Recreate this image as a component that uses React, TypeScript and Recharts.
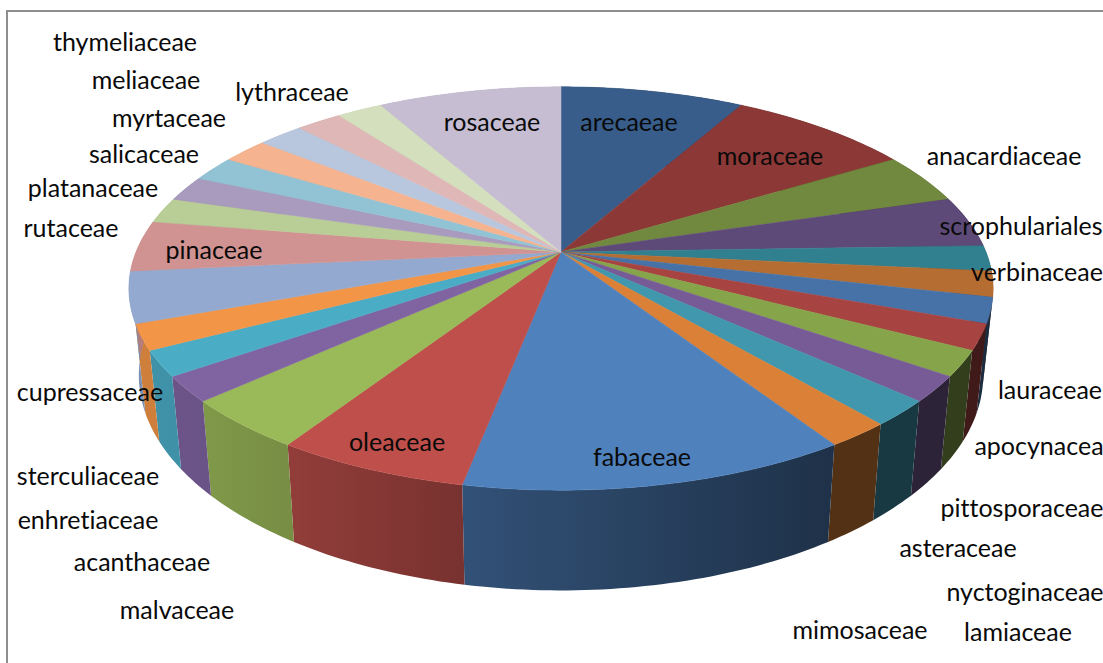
import { PieChart, Pie } from "recharts";

const families = [
  "arecaeae", "moraceae", "anacardiaceae", "scrophulariales", "verbinaceae", "lauraceae", "apocynacea",
  "pittosporaceae", "asteraceae", "nyctoginaceae", "lamiaceae", "mimosaceae", "fabaceae", "oleaceae",
  "malvaceae", "acanthaceae", "enhretiaceae", "sterculiaceae", "cupressaceae", "pinaceae", "rutaceae",
  "platanaceae", "salicaceae", "myrtaceae", "meliaceae", "thymeliaceae", "lythraceae", "rosaceae",
];
const counts = [4, 4, 2, 2, 1, 1, 1, 1, 1, 1, 1, 1, 6, 3, 2, 1, 1, 1, 2, 2, 1, 1, 1, 1, 1, 1, 1, 4];
const colors = [
  "#385D8A", "#8C3836", "#71893F", "#5E4A78", "#31808F", "#B66D31", "#4672A8",
  "#A74442", "#86A44A", "#775B96", "#4197AE", "#DA8137", "#4F81BD", "#BE4F4B",
  "#9AB958", "#8064A2", "#4BACC6", "#F39547", "#93A9CF", "#D19392", "#B9CD96",
  "#A99BBD", "#91C3D5", "#F5B38F", "#B9C7DE", "#DEB7B6", "#D3DFBD", "#C6BDD3",
];

// label centres, the original has them hand placed
const labelSpots: Record<string, [number, number]> = {
  arecaeae: [629, 122], moraceae: [770, 156], anacardiaceae: [1004, 156], scrophulariales: [1021, 226],
  verbinaceae: [1037, 272], lauraceae: [1050, 390], apocynacea: [1039, 446], pittosporaceae: [1022, 508],
  asteraceae: [958, 548], nyctoginaceae: [1025, 592], lamiaceae: [1018, 632], mimosaceae: [860, 630],
  fabaceae: [642, 457], oleaceae: [397, 442], malvaceae: [177, 610], acanthaceae: [142, 562],
  enhretiaceae: [88, 520], sterculiaceae: [88, 476], cupressaceae: [90, 392], pinaceae: [214, 250],
  rutaceae: [71, 228], platanaceae: [93, 188], salicaceae: [144, 154], myrtaceae: [169, 118],
  meliaceae: [146, 80], thymeliaceae: [125, 42], lythraceae: [292, 92], rosaceae: [492, 122],
};

const rows = families.map((family, i) => ({ family, count: counts[i], fill: colors[i] }));

// perspective of the disc, worked out from the rim of the picture
const TILT = 0.181;
const SQUASH = 0.459;
const DEPTH = 84.5;
const BOTTOM_X = 0.977;
const BOTTOM_Y = 1.066;

const project = (cx: number, cy: number, r: number, deg: number, bottom = false) => {
  const a = ((90 - deg) * Math.PI) / 180;
  const u = Math.sin(a);
  const v = -Math.cos(a);
  const w = 1 - TILT * v;
  const dx = (r * u) / w;
  const dy = (r * SQUASH * v) / w;
  return bottom
    ? [cx + BOTTOM_X * dx, cy + DEPTH + BOTTOM_Y * dy]
    : [cx + dx, cy + dy];
};

const arc = (cx: number, cy: number, r: number, from: number, to: number, bottom = false) => {
  const steps = Math.max(2, Math.ceil(Math.abs(to - from)));
  const pts: number[][] = [];
  for (let i = 0; i <= steps; i++) {
    pts.push(project(cx, cy, r, from + ((to - from) * i) / steps, bottom));
  }
  return pts;
};

const toPath = (pts: number[][]) =>
  "M" + pts.map((p) => `${p[0].toFixed(2)},${p[1].toFixed(2)}`).join("L") + "Z";

const dim = (hex: string, f: number) => {
  const n = parseInt(hex.slice(1), 16);
  const c = [n >> 16, (n >> 8) & 255, n & 255].map((x) => Math.round(x * f));
  return `rgb(${c[0]},${c[1]},${c[2]})`;
};

// side light, dark on the right and bright on the left
const lightAngles = [147, 191, 213, 228, 240];
const lightLevels = [0.38, 0.63, 0.77, 0.83, 0.85];
const sideLight = (deg: number) => {
  const t = 90 - deg;
  if (t <= lightAngles[0]) return lightLevels[0];
  for (let i = 1; i < lightAngles.length; i++) {
    if (t <= lightAngles[i]) {
      const k = (t - lightAngles[i - 1]) / (lightAngles[i] - lightAngles[i - 1]);
      return lightLevels[i - 1] + k * (lightLevels[i] - lightLevels[i - 1]);
    }
  }
  return lightLevels[lightLevels.length - 1];
};

const TopSlice = (props: any) => {
  const { cx, cy, outerRadius, startAngle, endAngle, fill } = props;
  const pts = [[cx, cy], ...arc(cx, cy, outerRadius, startAngle, endAngle)];
  return <path d={toPath(pts)} fill={fill} stroke={fill} strokeWidth={0.5} />;
};

const SideSlice = (props: any) => {
  const { cx, cy, outerRadius, startAngle, endAngle, fill, family } = props;
  const upper = arc(cx, cy, outerRadius, startAngle, endAngle);
  const lower = arc(cx, cy, outerRadius, startAngle, endAngle, true).reverse();
  const id = `side-${family}`;
  return (
    <g>
      <defs>
        <linearGradient
          id={id}
          gradientUnits="userSpaceOnUse"
          x1={upper[0][0]}
          y1={0}
          x2={upper[upper.length - 1][0] + 0.01}
          y2={0}
        >
          <stop offset="0%" stopColor={dim(fill, sideLight(startAngle))} />
          <stop offset="100%" stopColor={dim(fill, sideLight(endAngle))} />
        </linearGradient>
      </defs>
      <path d={toPath([...upper, ...lower])} fill={`url(#${id})`} stroke="none" />
    </g>
  );
};

const SliceLabel = (props: any) => {
  const name = props.family ?? props.payload?.family ?? props.name;
  const spot = labelSpots[name];
  if (!spot) return null;
  return (
    <text
      x={spot[0]}
      y={spot[1] - 1}
      textAnchor="middle"
      dominantBaseline="central"
      fontFamily="Lato, Carlito, sans-serif"
      fontSize={25}
      fill="#0a0a0a"
      style={{ fontVariantLigatures: "none", fontFeatureSettings: '"liga" 0' }}
    >
      {name}
    </text>
  );
};

export default function App() {
  return (
    <div style={{ position: "fixed", left: 0, top: 0, width: 1103, height: 663, background: "#fff" }}>
      <div
        style={{
          position: "absolute",
          left: 6,
          top: 10,
          width: 1097,
          height: 653,
          boxSizing: "border-box",
          borderLeft: "2px solid #8e8e8e",
          borderTop: "2px solid #8e8e8e",
        }}
      />
      <div style={{ position: "absolute", left: 0, top: 0 }}>
        <PieChart width={1103} height={663} margin={{ top: 0, right: 0, bottom: 0, left: 0 }}>
          <Pie
            data={rows}
            dataKey="count"
            nameKey="family"
            cx={561}
            cy={252}
            outerRadius={425}
            startAngle={90}
            endAngle={-270}
            shape={SideSlice}
            stroke="none"
            isAnimationActive={false}
          />
          <Pie
            data={rows}
            dataKey="count"
            nameKey="family"
            cx={561}
            cy={252}
            outerRadius={425}
            startAngle={90}
            endAngle={-270}
            shape={TopSlice}
            stroke="none"
            label={SliceLabel}
            labelLine={false}
            isAnimationActive={false}
          />
        </PieChart>
      </div>
    </div>
  );
}
